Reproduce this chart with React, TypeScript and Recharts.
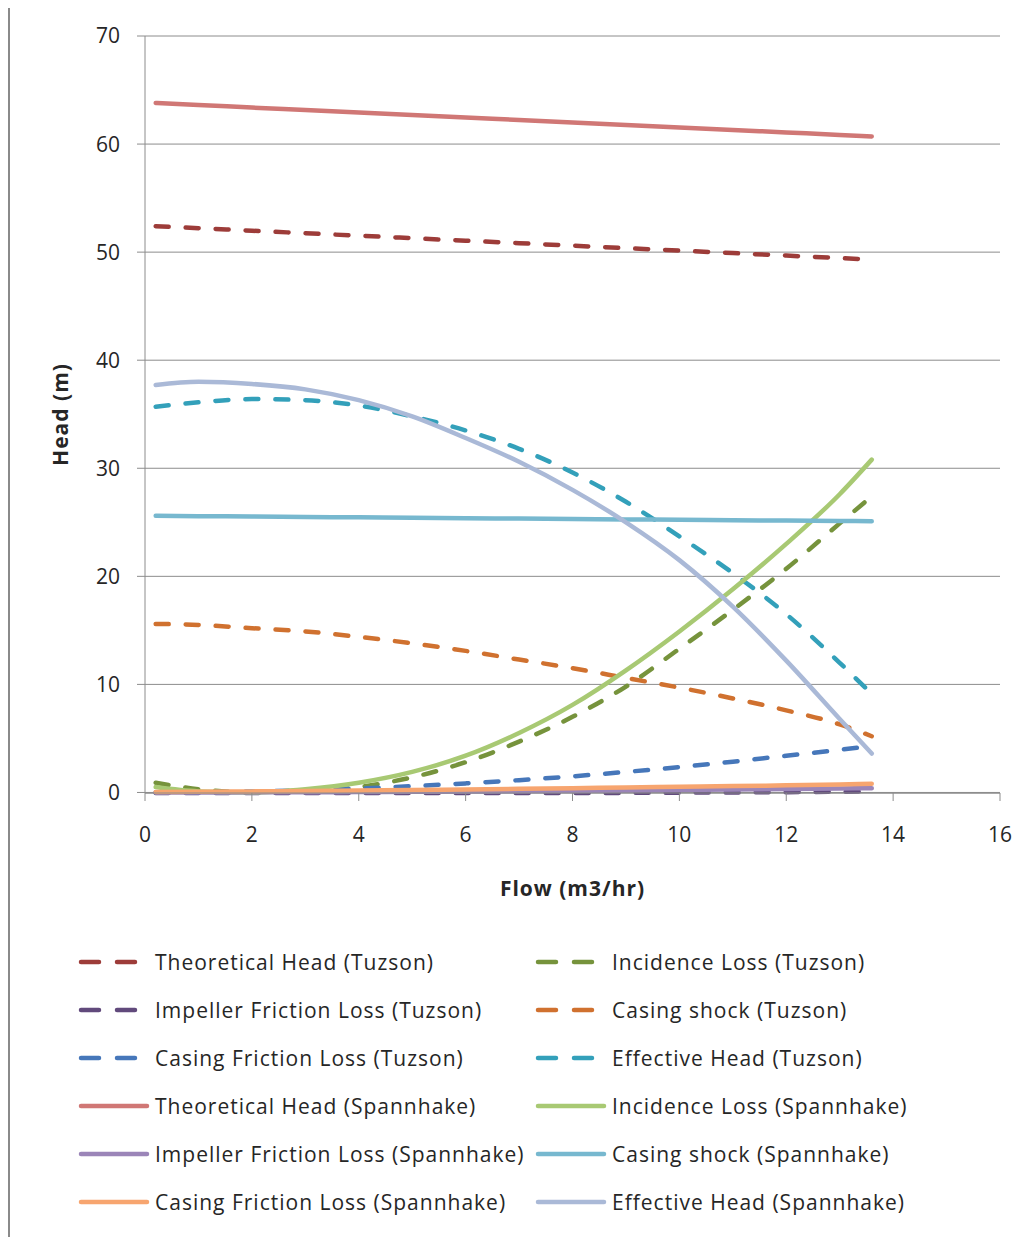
import React from 'react'
import { LineChart, Line, XAxis, YAxis, CartesianGrid, Legend } from 'recharts'

const flow = [0.2, 1, 2, 3, 4, 5, 6, 7, 8, 9, 10, 11, 12, 13, 13.6]

// Tuzson
const theoHeadT = [52.4, 52.22, 51.98, 51.75, 51.52, 51.29, 51.06, 50.83, 50.6, 50.37, 50.14, 49.91, 49.68, 49.45, 49.3]
const incidenceT = [0.9, 0.3, 0.0, 0.0, 0.5, 1.4, 2.8, 4.7, 7.0, 9.8, 13.3, 16.9, 20.7, 24.9, 27.4]
const impFrictionT = [-0.05, -0.05, -0.05, -0.05, -0.05, -0.05, -0.05, -0.05, -0.05, -0.04, -0.02, 0.0, 0.03, 0.07, 0.1]
const casingShockT = [15.6, 15.5, 15.2, 14.9, 14.4, 13.8, 13.1, 12.3, 11.5, 10.6, 9.7, 8.7, 7.6, 6.3, 5.2]
const casingFrictionT = [0.0, 0.02, 0.09, 0.21, 0.37, 0.58, 0.84, 1.14, 1.49, 1.9, 2.35, 2.85, 3.4, 3.95, 4.3]
const effHeadT = [35.7, 36.1, 36.4, 36.3, 35.8, 34.8, 33.5, 31.8, 29.6, 26.9, 23.7, 20.3, 16.5, 12.0, 9.1]

// Spannhake
const theoHeadS = [63.8, 63.62, 63.38, 63.15, 62.92, 62.69, 62.46, 62.23, 62.0, 61.77, 61.54, 61.31, 61.08, 60.85, 60.7]
const incidenceS = [0.5, 0.1, 0.0, 0.3, 0.9, 1.9, 3.4, 5.5, 8.1, 11.3, 14.9, 18.8, 23.0, 27.6, 30.8]
const impFrictionS = [0.0, 0.0, 0.01, 0.02, 0.04, 0.06, 0.08, 0.11, 0.14, 0.18, 0.22, 0.27, 0.32, 0.37, 0.4]
const casingShockS = [25.6, 25.57, 25.53, 25.49, 25.46, 25.42, 25.38, 25.34, 25.31, 25.27, 25.23, 25.19, 25.16, 25.12, 25.1]
const casingFrictionS = [0.05, 0.07, 0.1, 0.14, 0.18, 0.23, 0.28, 0.34, 0.4, 0.46, 0.52, 0.59, 0.66, 0.74, 0.8]
const effHeadS = [37.7, 38.0, 37.8, 37.3, 36.3, 34.8, 32.8, 30.6, 28.0, 25.0, 21.5, 17.2, 12.2, 6.8, 3.6]

const xTicks = [0, 2, 4, 6, 8, 10, 12, 14, 16]
const yTicks = [0, 10, 20, 30, 40, 50, 60, 70]

const series = [
  { key: 'Theoretical Head (Tuzson)', values: theoHeadT, color: '#9D3C39', dashed: true },
  { key: 'Incidence Loss (Tuzson)', values: incidenceT, color: '#76933C', dashed: true },
  { key: 'Impeller Friction Loss (Tuzson)', values: impFrictionT, color: '#614A7C', dashed: true },
  { key: 'Casing shock (Tuzson)', values: casingShockT, color: '#D0712F', dashed: true },
  { key: 'Casing Friction Loss (Tuzson)', values: casingFrictionT, color: '#4677BA', dashed: true },
  { key: 'Effective Head (Tuzson)', values: effHeadT, color: '#33A0BA', dashed: true },
  { key: 'Theoretical Head (Spannhake)', values: theoHeadS, color: '#D07775', dashed: false },
  { key: 'Incidence Loss (Spannhake)', values: incidenceS, color: '#A8C973', dashed: false },
  { key: 'Impeller Friction Loss (Spannhake)', values: impFrictionS, color: '#9B85B8', dashed: false },
  { key: 'Casing shock (Spannhake)', values: casingShockS, color: '#77B8CF', dashed: false },
  { key: 'Casing Friction Loss (Spannhake)', values: casingFrictionS, color: '#F7A56F', dashed: false },
  { key: 'Effective Head (Spannhake)', values: effHeadS, color: '#AAB9D7', dashed: false },
]

const data = flow.map((f, i) => {
  const row: any = { flow: f }
  series.forEach((s) => {
    row[s.key] = s.values[i]
  })
  return row
})

const FONT = '"Open Sans", "Noto Sans", sans-serif'

function LegendBox() {
  return (
    <div style={{ position: 'relative', width: 1020, height: 300, fontFamily: FONT }}>
      {series.map((s, i) => {
        const col = i % 2
        const row = Math.floor(i / 2)
        return (
          <div
            key={s.key}
            style={{
              position: 'absolute',
              left: col === 0 ? 68 : 525,
              top: 19 + row * 48 - 15,
              height: 30,
              display: 'flex',
              alignItems: 'center',
              whiteSpace: 'nowrap',
            }}
          >
            <svg width={72} height={30} style={{ marginRight: 5 }}>
              <line
                x1={3}
                y1={15}
                x2={69}
                y2={15}
                stroke={s.color}
                strokeWidth={4.5}
                strokeLinecap="round"
                strokeDasharray={s.dashed ? '18 18' : undefined}
              />
            </svg>
            <span style={{ fontSize: 21, letterSpacing: 1, color: '#262626' }}>{s.key}</span>
          </div>
        )
      })}
    </div>
  )
}

export default function App() {
  return (
    <div
      style={{
        width: 1020,
        height: 1240,
        borderTop: '2px solid #8a8a8a',
        borderLeft: '2px solid #8a8a8a',
        marginTop: -2,
        background: '#fff',
        overflow: 'hidden',
      }}
    >
      <LineChart
        width={1020}
        height={1235}
        data={data}
        margin={{ top: 28, right: 30, left: 0, bottom: 0 }}
      >
        <CartesianGrid vertical={false} stroke="#8c8c8c" strokeWidth={1} />
        <XAxis
          dataKey="flow"
          type="number"
          domain={[0, 16]}
          ticks={xTicks}
          height={150}
          stroke="#8c8c8c"
          tickSize={8}
          tickMargin={26}
          tick={{ fill: '#262626', fontSize: 21, fontFamily: FONT }}
          label={(props: any) => {
            const vb = props.viewBox
            return (
              <text
                x={vb.x + vb.width / 2}
                y={vb.y + 95}
                textAnchor="middle"
                dominantBaseline="central"
                fontFamily={FONT}
                fontWeight="bold"
                fontSize={21}
                letterSpacing={1}
                fill="#262626"
              >
                Flow (m3/hr)
              </text>
            )
          }}
        />
        <YAxis
          type="number"
          domain={[0, 70]}
          ticks={yTicks}
          width={135}
          stroke="#8c8c8c"
          tickSize={8}
          tickMargin={17}
          tick={{ fill: '#262626', fontSize: 21, fontFamily: FONT }}
          label={(props: any) => {
            const vb = props.viewBox
            const cx = 50
            const cy = vb.y + vb.height / 2
            return (
              <text
                x={cx}
                y={cy}
                transform={`rotate(-90 ${cx} ${cy})`}
                textAnchor="middle"
                dominantBaseline="central"
                fontFamily={FONT}
                fontWeight="bold"
                fontSize={21}
                letterSpacing={1}
                fill="#262626"
              >
                Head (m)
              </text>
            )
          }}
        />
        <Legend verticalAlign="bottom" content={() => <LegendBox />} />
        {series.map((s) => (
          <Line
            key={s.key}
            dataKey={s.key}
            type="monotone"
            stroke={s.color}
            strokeWidth={4.5}
            strokeDasharray={s.dashed ? '13 17' : undefined}
            strokeLinecap="round"
            dot={false}
            activeDot={false}
            isAnimationActive={false}
          />
        ))}
      </LineChart>
    </div>
  )
}
